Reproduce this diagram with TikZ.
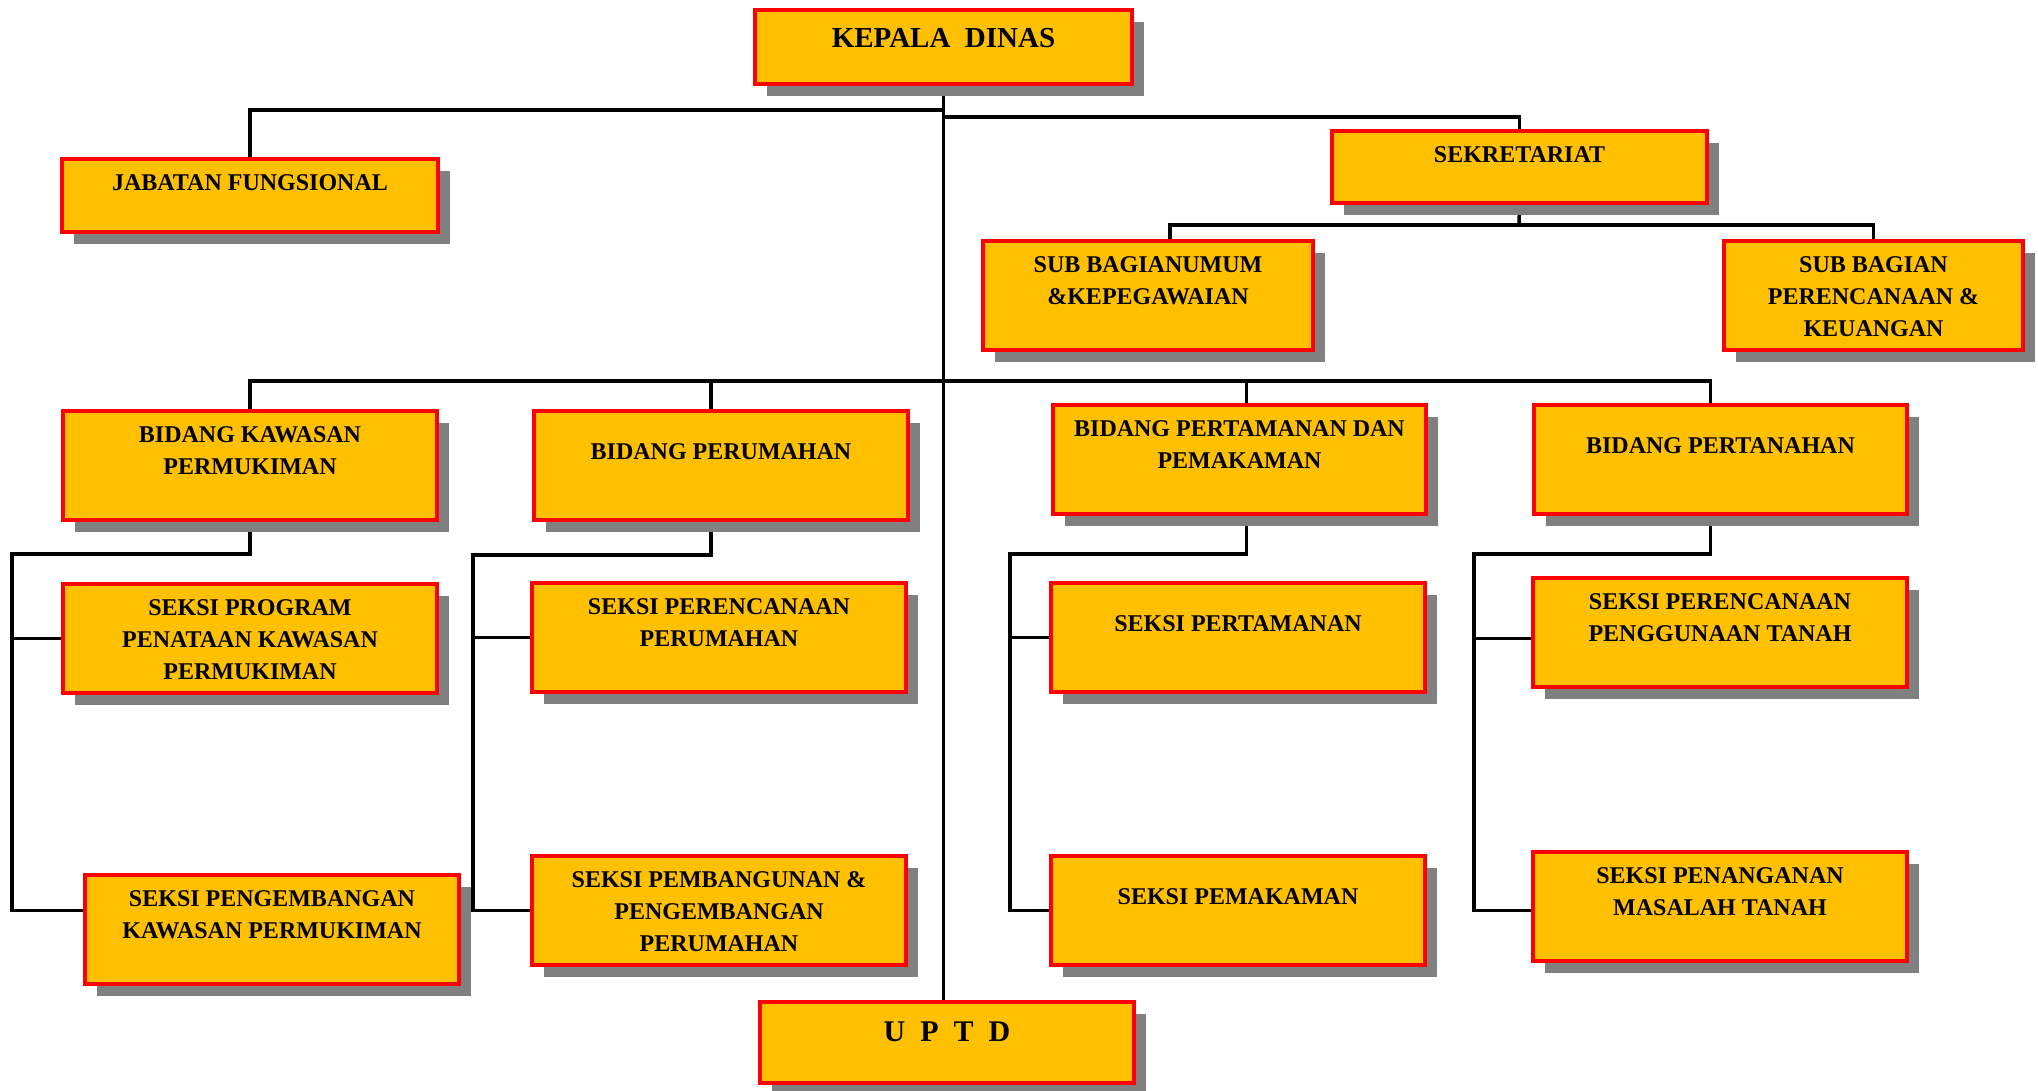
\documentclass[tikz,border=0pt]{standalone}
\usepackage{fontspec}
\setmainfont{Liberation Serif}
\usetikzlibrary{shadows}
\definecolor{boxfill}{RGB}{255,192,0}
\definecolor{shadowgray}{RGB}{128,128,128}
\pgfdeclarelayer{background}
\pgfsetlayers{background,main}
\begin{document}
\begin{tikzpicture}[x=1pt,y=-1pt,
    unitbox/.style={draw=red, line width=4.5pt, fill=boxfill, inner sep=0pt,
      drop shadow={shadow xshift=12pt, shadow yshift=-12pt, fill=shadowgray, opacity=1}},
    unittext/.style={font=\bfseries\fontsize{24}{32}\selectfont, align=center, inner sep=0pt},
    link/.style={line width=3.5pt, black}]
    \useasboundingbox (0,0) rectangle (2038,1090);
    % boxes: name/left/top/right/bottom/text offset/text
    \foreach \nm/\xa/\ya/\xb/\yb/\pad/\txt in {
        kepala/753/8/1134/86/20/{\fontsize{29}{36}\selectfont KEPALA\ \ DINAS},
        jabatan/60/157/440/234/18/{JABATAN FUNGSIONAL},
        sekretariat/1330/129/1709/205/18/{SEKRETARIAT},
        subumum/981/239/1315/352/18/{SUB BAGIANUMUM\\\&KEPEGAWAIAN},
        subkeu/1722/239/2025/352/18/{SUB BAGIAN\\PERENCANAAN \&\\KEUANGAN},
        bkawasan/61/409/439/522/18/{BIDANG KAWASAN\\PERMUKIMAN},
        brumah/532/409/910/522/35/{BIDANG PERUMAHAN},
        btaman/1051/403/1428/516/18/{BIDANG PERTAMANAN DAN\\PEMAKAMAN},
        btanah/1532/403/1909/516/35/{BIDANG PERTANAHAN},
        sprogram/61/582/439/695/18/{SEKSI PROGRAM\\PENATAAN KAWASAN\\PERMUKIMAN},
        skembang/83/873/461/986/18/{SEKSI PENGEMBANGAN\\KAWASAN PERMUKIMAN},
        srencana/530/581/908/694/18/{SEKSI PERENCANAAN\\PERUMAHAN},
        sbangun/530/854/908/967/18/{SEKSI PEMBANGUNAN \&\\PENGEMBANGAN\\PERUMAHAN},
        staman/1049/581/1427/694/35/{SEKSI PERTAMANAN},
        smakam/1049/854/1427/967/35/{SEKSI PEMAKAMAN},
        sguna/1531/576/1909/689/18/{SEKSI PERENCANAAN\\PENGGUNAAN TANAH},
        smasalah/1531/850/1909/963/18/{SEKSI PENANGANAN\\MASALAH TANAH},
        uptd/758/1000/1136/1085/22/{\fontsize{30}{36}\selectfont U\ \ P\ \ T\ \ D}}
    {
        \node[unitbox, minimum width={(\xb-\xa-4)*1pt}, minimum height={(\yb-\ya-4)*1pt}]
            (\nm) at ({(\xa+\xb)/2},{(\ya+\yb)/2}) {};
        \node[unittext, anchor=north] (\nm-t) at ([yshift={-\pad*1pt}]\nm.north) {\txt};
    }
    \coordinate (hubA) at (943,110);
    \coordinate (hubB) at (943,117);
    \coordinate (hubC) at (1519,225);
    \coordinate (hubD) at (943,381);
    \coordinate (railA) at (12,554);
    \coordinate (railB) at (473,555);
    \coordinate (railC) at (1010,554);
    \coordinate (railD) at (1474,554);
    \begin{pgfonlayer}{background}
        \draw[link] (kepala.south) -- (kepala.south |- uptd.north);
        \draw[link] (jabatan.north) |- (hubA);
        \draw[link] (sekretariat.north) |- (hubB);
        \draw[link] (sekretariat.south) -- (hubC);
        \draw[link] ([xshift=22pt]subumum.north) |- (hubC);
        \draw[link] (subkeu.north) |- (hubC);
        \draw[link] (bkawasan.north) |- (hubD);
        \draw[link] ([xshift=-10pt]brumah.north) |- (hubD);
        \draw[link] ([xshift=7pt]btaman.north) |- (hubD);
        \draw[link] ([xshift=-10pt]btanah.north) |- (hubD);
        % seksi under each bidang
        \draw[link] (bkawasan.south) |- (railA) |- ([yshift=19pt]skembang.west);
        \draw[link] (sprogram.west) -- (sprogram.west -| railA);
        \draw[link] ([xshift=-10pt]brumah.south) |- (railB) |- (sbangun.west);
        \draw[link] (srencana.west) -- (srencana.west -| railB);
        \draw[link] ([xshift=7pt]btaman.south) |- (railC) |- (smakam.west);
        \draw[link] (staman.west) -- (staman.west -| railC);
        \draw[link] ([xshift=-10pt]btanah.south) |- (railD) |- ([yshift=-4pt]smasalah.west);
        \draw[link] ([yshift=-6pt]sguna.west) -- ([yshift=-6pt]sguna.west -| railD);
    \end{pgfonlayer}
\end{tikzpicture}
\end{document}
